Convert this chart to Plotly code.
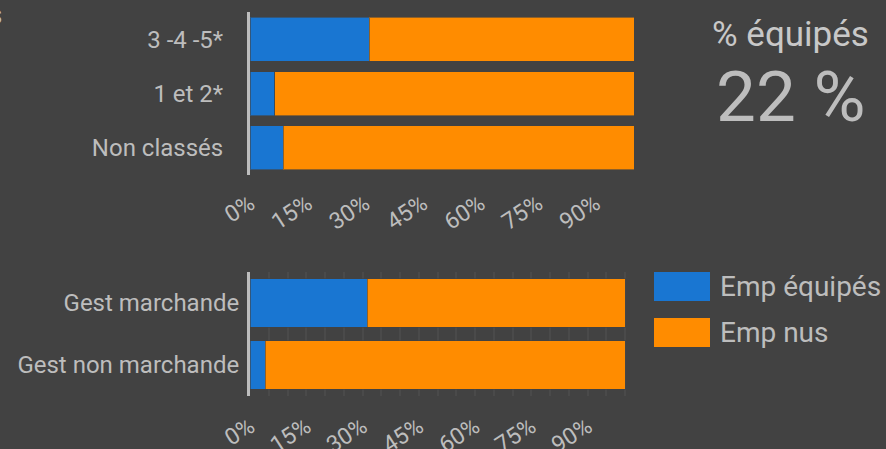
import plotly.graph_objects as go

# ---- data ----
cat_top = ["3 -4 -5*", "1 et 2*", "Non classés"]
equip_top = [0.31, 0.065, 0.086]
nus_top = [0.69, 0.935, 0.914]

cat_bot = ["Gest marchande", "Gest non marchande"]
equip_bot = [0.312, 0.04]
nus_bot = [0.688, 0.96]

series_names = ["Emp équipés", "Emp nus"]
kpi_label = "% équipés"
kpi_value = "22 %"
tick_vals = [0, 0.15, 0.30, 0.45, 0.60, 0.75, 0.90]
tick_text = ["0%", "15%", "30%", "45%", "60%", "75%", "90%"]

BG = "#424242"
BLUE = "#1976D2"
ORANGE = "#FF8C00"
TXT = "#BDBDBD"
FONT = "Roboto"
W, H = 886, 449

fig = go.Figure()
line = dict(color="rgba(66,66,66,0.6)", width=1)
fig.add_bar(y=cat_top, x=equip_top, orientation="h", marker=dict(color=BLUE, line=line),
            name=series_names[0], width=0.81, xaxis="x", yaxis="y", showlegend=False)
fig.add_bar(y=cat_top, x=nus_top, orientation="h", marker=dict(color=ORANGE, line=line),
            name=series_names[1], width=0.81, xaxis="x", yaxis="y", showlegend=False)
fig.add_bar(y=cat_bot, x=equip_bot, orientation="h", marker=dict(color=BLUE, line=line),
            name=series_names[0], width=0.79, xaxis="x2", yaxis="y2", showlegend=False)
fig.add_bar(y=cat_bot, x=nus_bot, orientation="h", marker=dict(color=ORANGE, line=line),
            name=series_names[1], width=0.79, xaxis="x2", yaxis="y2", showlegend=False)

def px(x):
    return x / W

def py(y):
    return 1 - y / H

xcommon = dict(tickvals=tick_vals, ticktext=tick_text, tickangle=-33,
               tickfont=dict(family=FONT, size=23, color=TXT), automargin=False,
               showline=False, zeroline=False, fixedrange=True)
ycommon = dict(autorange="reversed", automargin=False, showline=True, linecolor="#BDBDBD",
               linewidth=3, showgrid=False, zeroline=False, fixedrange=True,
               tickfont=dict(family=FONT, size=24, color=TXT))
fig.update_layout(
    template="none",
    width=W, height=H,
    paper_bgcolor=BG, plot_bgcolor=BG,
    margin=dict(l=0, r=0, t=0, b=0, pad=0),
    barmode="stack",
    showlegend=False,
    font=dict(family=FONT, color=TXT),
    xaxis=dict(domain=[px(250), px(634)], range=[0, 1], anchor="y", showgrid=False,
               ticklabelstandoff=10, **xcommon),
    yaxis=dict(domain=[py(175), py(12)], anchor="x", ticklabelstandoff=19, **ycommon),
    xaxis2=dict(domain=[px(250), px(634)], range=[0, (634 - 250) / (625 - 250)], anchor="y2",
                showgrid=True, gridcolor="#4A4A4A", gridwidth=2,
                minor=dict(dtick=0.05, tick0=0, showgrid=True, gridcolor="#4A4A4A", gridwidth=2),
                ticklabelstandoff=12, **xcommon),
    yaxis2=dict(domain=[py(396), py(272)], anchor="x2", ticklabelstandoff=3, **ycommon),
)

# legend (drawn boxes + labels)
leg = [(BLUE, series_names[0], 272), (ORANGE, series_names[1], 318)]
for color, name, y0 in leg:
    fig.add_shape(type="rect", xref="paper", yref="paper",
                  x0=px(654), x1=px(710), y0=py(y0 + 29), y1=py(y0),
                  fillcolor=color, line=dict(width=0))
    fig.add_annotation(text=name, xref="paper", yref="paper", x=px(718), y=py(y0 + 14),
                       xanchor="left", yanchor="middle", showarrow=False,
                       font=dict(family=FONT, size=28, color=TXT))

fig.add_annotation(text=kpi_label, xref="paper", yref="paper", x=px(790), y=py(35),
                   xanchor="center", yanchor="middle", showarrow=False,
                   font=dict(family=FONT, size=35, color="#C8C8C8"))
fig.add_annotation(text=kpi_value, xref="paper", yref="paper", x=px(790), y=py(97),
                   xanchor="center", yanchor="middle", showarrow=False,
                   font=dict(family=FONT, size=71, color=TXT))
fig.add_annotation(text="s", xref="paper", yref="paper", x=px(4), y=py(15),
                   xanchor="right", yanchor="middle", showarrow=False,
                   font=dict(family=FONT, size=28, color=TXT))

fig.write_html("out.html", config={"displayModeBar": False},
               post_script="document.body.style.margin='0';document.body.style.overflow='hidden';")
